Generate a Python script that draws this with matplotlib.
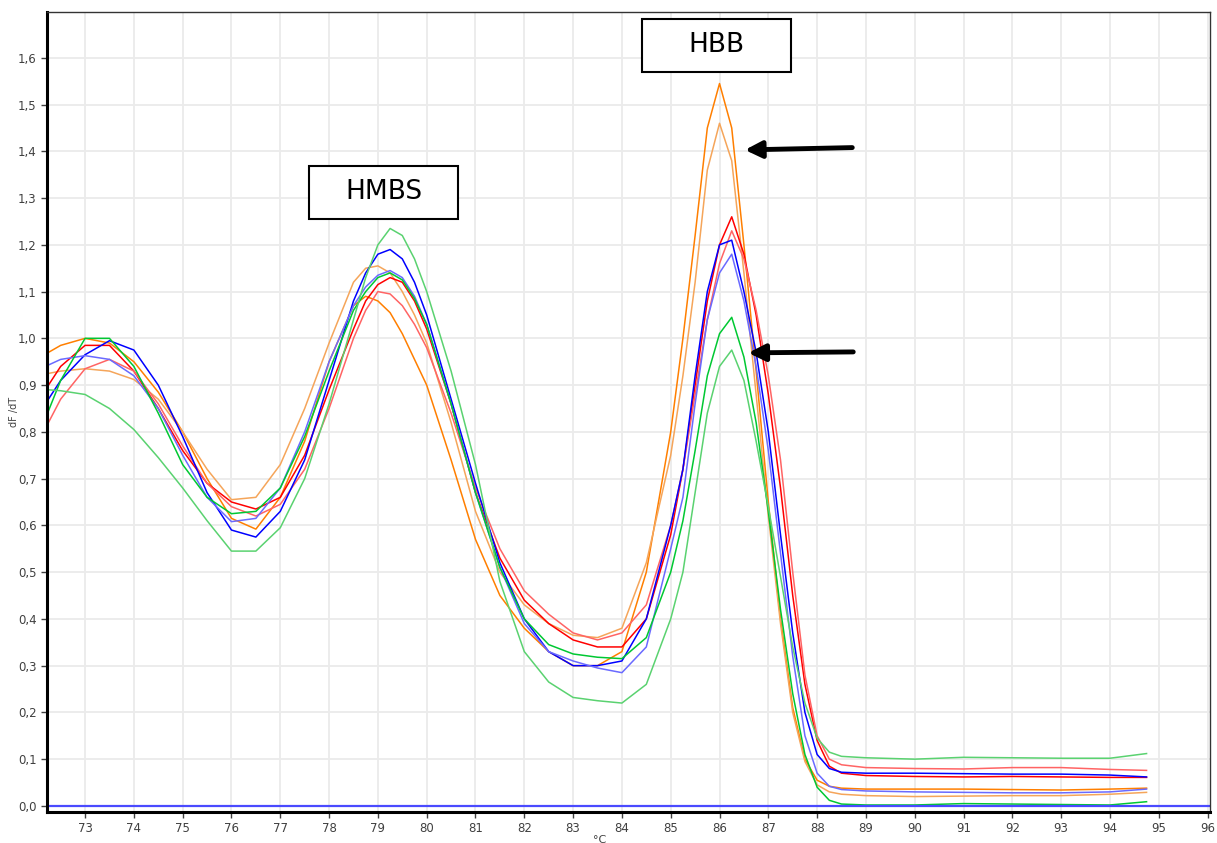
import matplotlib
matplotlib.use("Agg")
import matplotlib.pyplot as plt
import matplotlib.ticker as mticker
from matplotlib.patches import Rectangle

# melt curve readout: temperature grid (°C) and dF/dT per sample
temp = [72.25, 72.5, 73, 73.5, 74, 74.5, 75, 75.5, 76, 76.5, 77, 77.5, 78, 78.5, 78.75,
        79, 79.25, 79.5, 79.75, 80, 80.5, 81, 81.5, 82, 82.5, 83, 83.5, 84, 84.5, 85,
        85.25, 85.5, 85.75, 86, 86.25, 86.5, 86.75, 87, 87.25, 87.5, 87.75, 88, 88.25,
        88.5, 89, 90, 91, 92, 93, 94, 94.75]

orange_a = [0.970, 0.985, 1.000, 0.990, 0.950, 0.885, 0.800, 0.700, 0.615, 0.592, 0.660,
            0.780, 0.950, 1.070, 1.090, 1.080, 1.055, 1.010, 0.955, 0.900, 0.740, 0.570,
            0.450, 0.380, 0.330, 0.300, 0.300, 0.330, 0.500, 0.800, 1.000, 1.220, 1.450,
            1.545, 1.450, 1.200, 0.930, 0.650, 0.400, 0.210, 0.100, 0.055, 0.042, 0.038,
            0.036, 0.036, 0.036, 0.035, 0.034, 0.036, 0.038]
orange_b = [0.925, 0.930, 0.935, 0.930, 0.912, 0.870, 0.800, 0.720, 0.655, 0.660, 0.730,
            0.850, 0.990, 1.120, 1.150, 1.155, 1.140, 1.100, 1.050, 0.990, 0.820, 0.630,
            0.500, 0.430, 0.390, 0.365, 0.360, 0.380, 0.520, 0.750, 0.920, 1.120, 1.360,
            1.460, 1.380, 1.140, 0.880, 0.620, 0.390, 0.200, 0.095, 0.045, 0.030, 0.025,
            0.022, 0.020, 0.021, 0.022, 0.022, 0.025, 0.029]
red_a = [0.900, 0.940, 0.985, 0.985, 0.930, 0.850, 0.760, 0.690, 0.650, 0.635, 0.660,
         0.750, 0.890, 1.020, 1.080, 1.115, 1.130, 1.120, 1.080, 1.020, 0.860, 0.670,
         0.530, 0.440, 0.390, 0.355, 0.340, 0.340, 0.400, 0.580, 0.720, 0.900, 1.080,
         1.200, 1.260, 1.180, 1.050, 0.880, 0.680, 0.450, 0.260, 0.140, 0.085, 0.070,
         0.065, 0.063, 0.062, 0.063, 0.062, 0.061, 0.061]
red_b = [0.820, 0.870, 0.935, 0.955, 0.930, 0.860, 0.770, 0.690, 0.640, 0.620, 0.645,
         0.720, 0.850, 1.000, 1.060, 1.100, 1.095, 1.070, 1.030, 0.980, 0.840, 0.680,
         0.550, 0.460, 0.410, 0.370, 0.355, 0.370, 0.430, 0.600, 0.720, 0.880, 1.040,
         1.160, 1.230, 1.170, 1.060, 0.920, 0.740, 0.500, 0.280, 0.150, 0.100, 0.088,
         0.082, 0.080, 0.079, 0.082, 0.082, 0.078, 0.076]
blue_a = [0.870, 0.910, 0.965, 0.995, 0.975, 0.900, 0.790, 0.670, 0.590, 0.575, 0.630,
          0.740, 0.910, 1.080, 1.140, 1.180, 1.190, 1.170, 1.120, 1.050, 0.870, 0.690,
          0.520, 0.400, 0.330, 0.300, 0.300, 0.310, 0.400, 0.600, 0.720, 0.920, 1.100,
          1.200, 1.210, 1.100, 0.970, 0.800, 0.580, 0.370, 0.200, 0.110, 0.080, 0.072,
          0.070, 0.070, 0.069, 0.068, 0.068, 0.066, 0.062]
blue_b = [0.943, 0.955, 0.963, 0.955, 0.920, 0.850, 0.750, 0.660, 0.608, 0.615, 0.680,
          0.800, 0.950, 1.070, 1.110, 1.135, 1.145, 1.130, 1.090, 1.030, 0.860, 0.670,
          0.510, 0.390, 0.330, 0.310, 0.295, 0.285, 0.340, 0.550, 0.660, 0.860, 1.040,
          1.140, 1.180, 1.080, 0.940, 0.760, 0.540, 0.320, 0.150, 0.070, 0.042, 0.035,
          0.032, 0.030, 0.029, 0.028, 0.028, 0.030, 0.036]
green_a = [0.845, 0.910, 1.000, 1.000, 0.940, 0.840, 0.730, 0.660, 0.625, 0.630, 0.680,
           0.790, 0.930, 1.060, 1.100, 1.130, 1.140, 1.125, 1.085, 1.030, 0.860, 0.670,
           0.510, 0.400, 0.345, 0.325, 0.318, 0.315, 0.360, 0.500, 0.610, 0.760, 0.920,
           1.010, 1.045, 0.960, 0.820, 0.630, 0.420, 0.240, 0.110, 0.040, 0.012, 0.004,
           0.002, 0.002, 0.005, 0.004, 0.003, 0.002, 0.009]
green_b = [0.890, 0.888, 0.880, 0.850, 0.805, 0.745, 0.680, 0.610, 0.545, 0.545, 0.595,
           0.700, 0.860, 1.040, 1.130, 1.200, 1.235, 1.220, 1.170, 1.100, 0.930, 0.730,
           0.480, 0.330, 0.265, 0.232, 0.225, 0.220, 0.260, 0.400, 0.500, 0.670, 0.840,
           0.940, 0.975, 0.910, 0.780, 0.640, 0.490, 0.340, 0.220, 0.145, 0.115, 0.106,
           0.103, 0.100, 0.104, 0.103, 0.102, 0.102, 0.112]

series = [
    (orange_a, "#ff7f00"), (orange_b, "#f5a55a"),
    (red_a, "#ff0000"), (red_b, "#ff6464"),
    (blue_a, "#0000ff"), (blue_b, "#6a6aff"),
    (green_a, "#00c832"), (green_b, "#5ad270"),
]

x_ticks = list(range(73, 97))
y_ticks = [i / 10 for i in range(0, 17)]

fig = plt.figure(figsize=(12.17, 8.43), dpi=100)
ax = fig.add_axes([47 / 1217, 31 / 843, 1163 / 1217, 800 / 843])

ax.grid(True, color="#ebebeb", linewidth=1.3)
ax.set_axisbelow(True)

for vals, col in series:
    ax.plot(temp, vals, color=col, linewidth=1.1)

ax.axhline(0.0, color="#4a4aff", linewidth=1.6)

ax.set_xlim(72.22, 96.05)
ax.set_ylim(-0.013, 1.698)
ax.set_xticks(x_ticks)
ax.set_yticks(y_ticks)
ax.yaxis.set_major_formatter(mticker.FuncFormatter(lambda v, _: f"{v:.1f}".replace(".", ",")))
ax.tick_params(labelsize=8.5, colors="#404040", length=4, width=1)

for side in ("left", "bottom"):
    ax.spines[side].set_linewidth(2.2)
    ax.spines[side].set_color("black")
for side in ("top", "right"):
    ax.spines[side].set_linewidth(1.0)
    ax.spines[side].set_color("#333333")

ax.set_ylabel("dF /dT", fontsize=7, color="#404040", labelpad=-1)
fig.text(600 / 1217, -0.002, "°C", fontsize=8, color="#404040", ha="center", va="bottom")

# label boxes (x0, x1, y0, y1 in data units)
labels = [("HMBS", 77.59, 80.64, 1.256, 1.369), ("HBB", 84.41, 87.47, 1.570, 1.683)]
for name, x0, x1, y0, y1 in labels:
    ax.add_patch(Rectangle((x0, y0), x1 - x0, y1 - y0, facecolor="white",
                           edgecolor="black", linewidth=1.5, zorder=5))
    ax.text((x0 + x1) / 2, (y0 + y1) / 2, name, fontsize=19, ha="center",
            va="center", zorder=6)

arrow = dict(arrowstyle="-|>,head_length=1.0,head_width=0.5", color="black",
             linewidth=3.5, shrinkA=0, shrinkB=0)
ax.annotate("", xy=(86.52, 1.403), xytext=(88.72, 1.408), arrowprops=arrow)
ax.annotate("", xy=(86.59, 0.969), xytext=(88.74, 0.971), arrowprops=arrow)

fig.savefig("out.png", dpi=100)
